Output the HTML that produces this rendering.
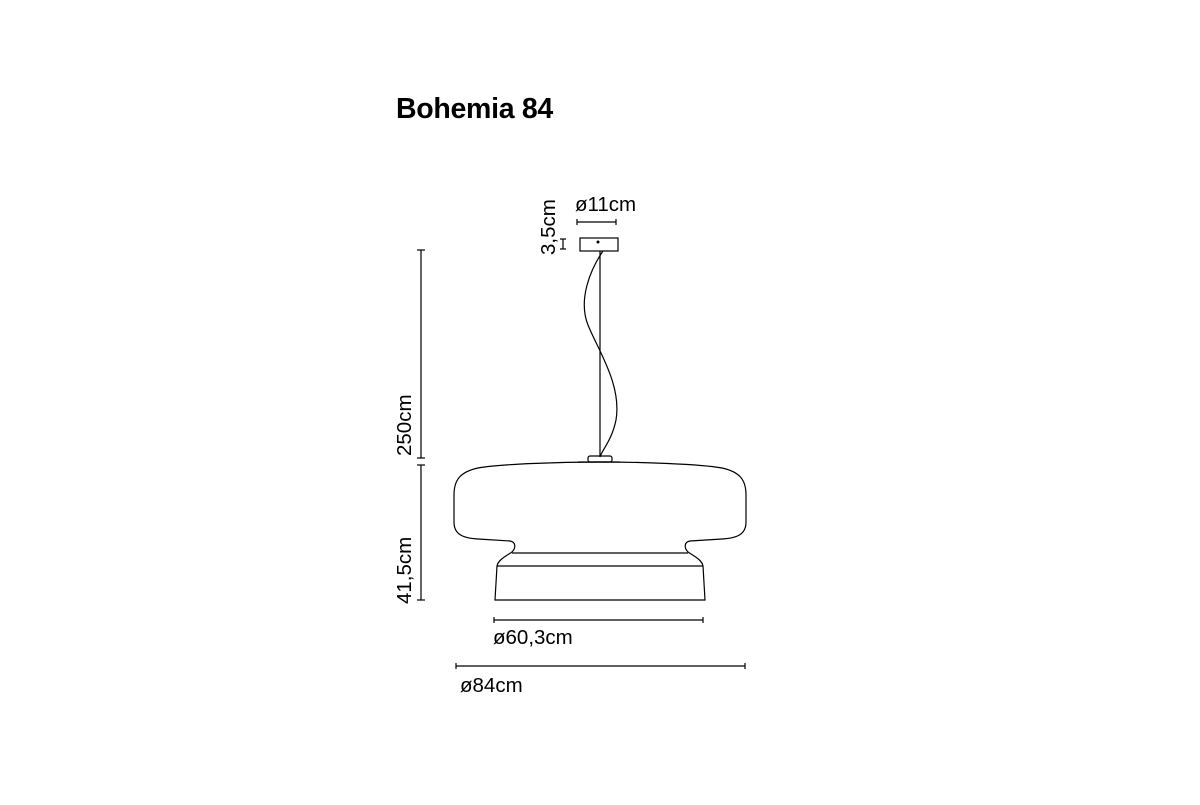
<!DOCTYPE html>
<html><head><style>
body{margin:0;background:#fff;width:1200px;height:800px;overflow:hidden;font-family:"Liberation Sans",sans-serif}
</style></head><body>
<svg width="1200" height="800" xmlns="http://www.w3.org/2000/svg" font-family="Liberation Sans, sans-serif">
<text x="396" y="118" font-size="28.5" font-weight="bold" fill="#000" letter-spacing="-0.3">Bohemia 84</text>
<g stroke="#000" stroke-width="1.2" fill="none">
<rect x="580" y="238" width="38" height="13"/>
<line x1="600" y1="251" x2="600" y2="457"/>
<path d="M603 251 C590 270 578 300 588 325 C598 350 622 385 616 420 C612 440 602 450 600 457"/>
<rect x="588" y="456" width="24" height="6" rx="2"/>
<line x1="578" y1="462" x2="620" y2="462"/>
<path d="M600 462 C560 462 500 464 478 468 C460 472 454 480 454 495 L454 522 C454 534 462 538 478 539 L510 541 C516 542 516 548 512 552 C506 556 498 560 497 566 L495 600 L705 600 L703 566 C702 560 694 556 688 552 C684 548 684 542 690 541 L722 539 C738 538 746 534 746 522 L746 495 C746 480 740 472 722 468 C700 464 640 462 600 462 Z"/>
<line x1="512" y1="553" x2="688" y2="553"/>
<line x1="497" y1="566" x2="703" y2="566"/>
<line x1="421" y1="250" x2="421" y2="458"/>
<line x1="417" y1="250" x2="425" y2="250"/>
<line x1="417" y1="458" x2="425" y2="458"/>
<line x1="421" y1="465" x2="421" y2="600"/>
<line x1="417" y1="465" x2="425" y2="465"/>
<line x1="417" y1="600" x2="425" y2="600"/>
<line x1="577" y1="222" x2="616" y2="222"/>
<line x1="577" y1="219" x2="577" y2="225"/>
<line x1="616" y1="219" x2="616" y2="225"/>
<line x1="563" y1="239" x2="563" y2="249"/>
<line x1="560" y1="239" x2="566" y2="239"/>
<line x1="560" y1="249" x2="566" y2="249"/>
<line x1="494" y1="620" x2="703" y2="620"/>
<line x1="494" y1="617" x2="494" y2="623"/>
<line x1="703" y1="617" x2="703" y2="623"/>
<line x1="456" y1="666" x2="745" y2="666"/>
<line x1="456" y1="663" x2="456" y2="669"/>
<line x1="745" y1="663" x2="745" y2="669"/>
</g>
<circle cx="598" cy="242" r="1.5" fill="#000"/>
<g font-size="20.5" fill="#000">
<text x="575" y="211">ø11cm</text>
<text x="493" y="644">ø60,3cm</text>
<text x="460" y="692">ø84cm</text>
<text transform="translate(555,255) rotate(-90)">3,5cm</text>
<text transform="translate(411,456) rotate(-90)">250cm</text>
<text transform="translate(411,604) rotate(-90)">41,5cm</text>
</g>
</svg>
</body></html>
